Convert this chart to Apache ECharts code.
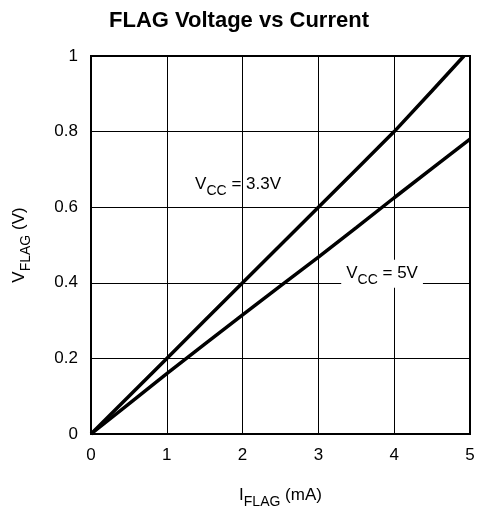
<!DOCTYPE html>
<html>
<head>
    <meta charset="utf-8" />
    <title>FLAG Voltage vs Current</title>
    <script src="https://cdn.jsdelivr.net/npm/echarts@6/dist/echarts.min.js"></script>
    <style>
        html, body { margin: 0; padding: 0; background: #fff; }
        #main { width: 478px; height: 516px; }
    </style>
</head>
<body>
    <div id="main"></div>
    <script type="text/javascript">
        // values
        var current33 = [0, 0.5, 1, 1.5, 2, 2.5, 3, 3.5, 4, 4.5, 4.92];
        var vflag33 = [0, 0.1, 0.2, 0.3, 0.4, 0.5, 0.6, 0.7, 0.8, 0.908, 1.0];
        var current5 = [0, 0.5, 1, 1.5, 2, 2.5, 3, 3.5, 4, 4.5, 5];
        var vflag5 = [0, 0.08, 0.16, 0.238, 0.315, 0.392, 0.468, 0.546, 0.625, 0.703, 0.78];

        var xTicks = [0, 1, 2, 3, 4, 5];
        var yTicks = [0, 0.2, 0.4, 0.6, 0.8, 1];

        // label anchors in data units
        var label33 = [1.94, 0.664];
        var label5 = [3.84, 0.424];

        var font = 'Liberation Sans, Arial, sans-serif';
        var richSub = {
            v: { fontSize: 17, fontFamily: font, color: '#000', verticalAlign: 'bottom', lineHeight: 20 },
            s: { fontSize: 14, fontFamily: font, color: '#000', verticalAlign: 'bottom', lineHeight: 20, padding: [0, 0, -5, 0] }
        };

        var pair = (xs, ys) => xs.map((x, i) => [x, ys[i]]);

        var chart = echarts.init(document.getElementById('main'), null, { renderer: 'canvas' });

        var option = {
            animation: false,
            backgroundColor: '#fff',
            title: {
                text: 'FLAG Voltage vs Current',
                left: 'center',
                top: 5,
                textStyle: { fontFamily: font, fontWeight: 'bold', fontSize: 22, color: '#000' }
            },
            grid: {
                left: 91, right: 8, top: 56, bottom: 82,
                show: true, borderColor: '#000', borderWidth: 2
            },
            xAxis: {
                type: 'value',
                min: xTicks[0], max: xTicks[xTicks.length - 1], interval: 1,
                name: '{v|I}{s|FLAG}{v| (mA)}',
                nameLocation: 'middle',
                nameGap: 50,
                nameTextStyle: { rich: richSub },
                axisLine: { lineStyle: { color: '#000', width: 2 } },
                axisTick: { show: false },
                axisLabel: { color: '#000', fontSize: 17, fontFamily: font, margin: 13 },
                splitLine: { show: true, lineStyle: { color: '#000', width: 1 } }
            },
            yAxis: {
                type: 'value',
                min: yTicks[0], max: yTicks[yTicks.length - 1], interval: 0.2,
                name: '{v|V}{s|FLAG}{v| (V)}',
                nameLocation: 'middle',
                nameGap: 63,
                nameTextStyle: { rich: richSub },
                axisLine: { lineStyle: { color: '#000', width: 2 } },
                axisTick: { show: false },
                axisLabel: { color: '#000', fontSize: 17, fontFamily: font, margin: 13 },
                splitLine: { show: true, lineStyle: { color: '#000', width: 1 } }
            },
            series: [{
                name: 'VCC = 3.3V',
                type: 'line',
                data: pair(current33, vflag33),
                showSymbol: false,
                lineStyle: { color: '#000', width: 3.5 },
                markPoint: {
                    symbol: 'circle', symbolSize: 1,
                    itemStyle: { color: 'rgba(0,0,0,0)' },
                    label: {
                        show: true, position: 'inside',
                        formatter: '{v|V}{s|CC}{v| = 3.3V}',
                        rich: richSub
                    },
                    data: [{ coord: label33 }]
                }
            }, {
                name: 'VCC = 5V',
                type: 'line',
                data: pair(current5, vflag5),
                showSymbol: false,
                lineStyle: { color: '#000', width: 3.5 },
                markPoint: {
                    symbol: 'circle', symbolSize: 1,
                    itemStyle: { color: 'rgba(0,0,0,0)' },
                    label: {
                        show: true, position: 'inside',
                        backgroundColor: '#fff',
                        padding: [2, 5, 6, 5],
                        formatter: '{v|V}{s|CC}{v| = 5V}',
                        rich: richSub
                    },
                    data: [{ coord: label5 }]
                }
            }]
        };

        chart.setOption(option);
    </script>
</body>
</html>
